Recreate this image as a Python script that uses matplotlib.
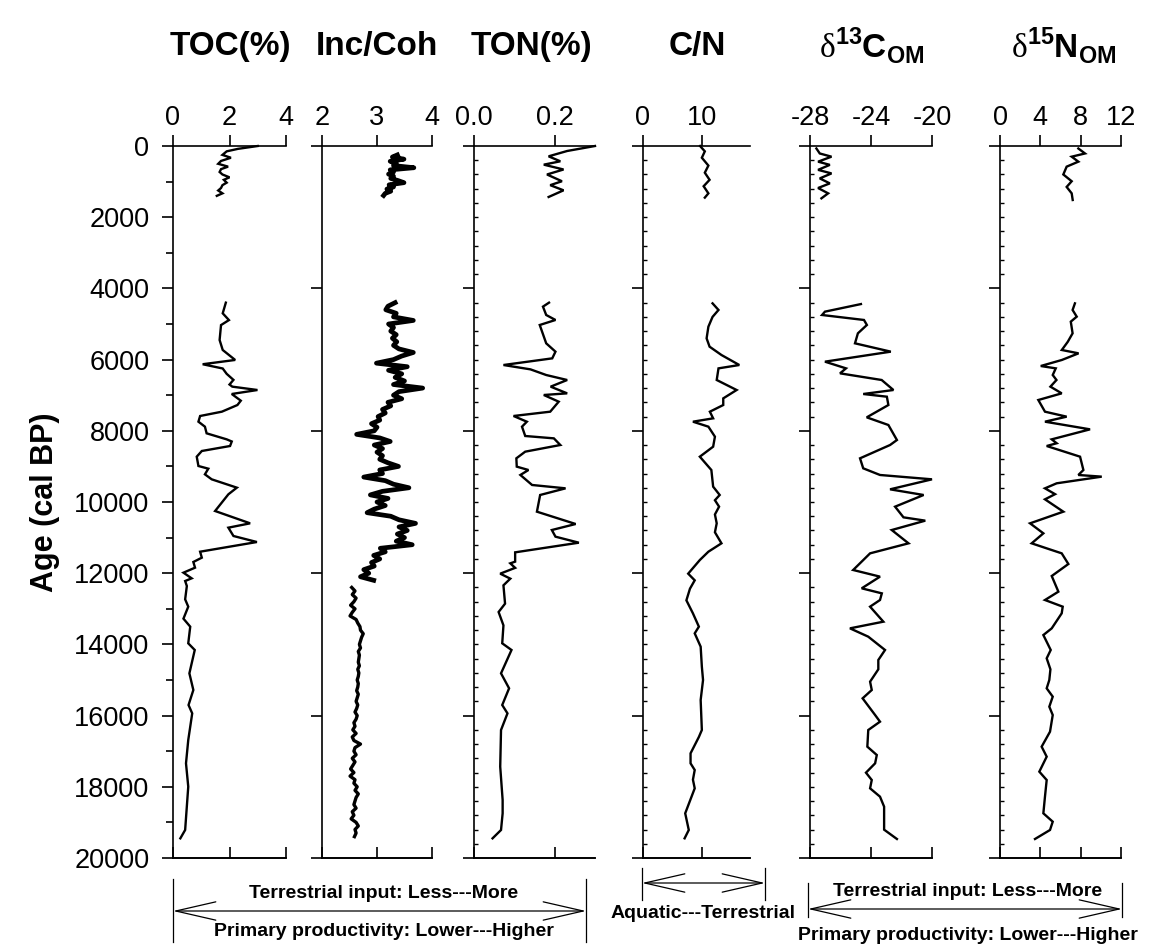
import numpy as np
import matplotlib
matplotlib.use("Agg")
import matplotlib.pyplot as plt
from matplotlib.lines import Line2D
from matplotlib.patches import FancyArrowPatch

plt.rcParams['font.family'] = ['Liberation Sans', 'DejaVu Sans']
plt.rcParams['mathtext.fontset'] = 'custom'
plt.rcParams['mathtext.rm'] = 'Liberation Serif'
plt.rcParams['mathtext.bf'] = 'Liberation Sans:bold'

# ---------------- data (age in cal BP) ----------------
# TOC (%)
toc_top_age = [0, 80, 150, 250, 330, 420, 500, 580, 650, 730, 800, 880, 950, 1030, 1100, 1180, 1250, 1330, 1400]
toc_top = [3.0, 2.3, 1.9, 1.75, 2.05, 1.7, 1.6, 1.95, 1.7, 1.65, 1.75, 2.0, 1.8, 1.9, 1.75, 1.7, 1.6, 1.75, 1.55]
toc_age = [4400, 4700, 4890, 5030, 5450, 5730, 6010, 6130, 6250, 6400, 6570, 6700, 6760, 6854, 6966,
           7154, 7276, 7463, 7584, 7744, 7884, 8071, 8240, 8300, 8427, 8567, 8727, 8989, 9064, 9223,
           9363, 9597, 9784, 10253, 10599, 10721, 10955, 11124, 11396, 11564, 11685, 11845, 11985,
           12144, 12219, 12360, 12734, 12940, 13277, 13502, 13970, 14157, 14813, 15281, 15703, 15937,
           16686, 17341, 17996, 19213, 19448]
toc = [1.87, 1.76, 1.98, 1.70, 1.65, 1.76, 2.2, 1.05, 1.76, 1.9, 2.14, 2.0, 2.1, 2.99, 2.08,
       2.40, 2.28, 1.73, 0.96, 0.90, 1.13, 1.19, 1.9, 2.08, 2.02, 1.02, 0.84, 0.90, 1.25, 1.13,
       1.37, 2.26, 1.96, 1.49, 2.73, 1.96, 2.14, 2.97, 0.96, 1.02, 0.72, 0.78, 0.37,
       0.66, 0.43, 0.49, 0.43, 0.54, 0.37, 0.61, 0.54, 0.77, 0.58, 0.72, 0.55, 0.68,
       0.54, 0.46, 0.54, 0.43, 0.26]

# Inc/Coh (regular XRF scan steps)
inc_top_age = np.arange(250, 1450, 60)
inc_top = [3.37, 3.28, 3.49, 3.24, 3.35, 3.30, 3.67, 3.24, 3.30, 3.21,
           3.30, 3.25, 3.38, 3.49, 3.22, 3.30, 3.18, 3.25, 3.15, 3.12]
inc_mid_age = np.arange(4400, 12300, 100)
inc_mid = [3.33, 3.20, 3.16, 3.35, 3.30, 3.66, 3.21, 3.30, 3.25, 3.35,
           3.28, 3.36, 3.30, 3.40, 3.66, 3.45, 3.30, 2.99, 3.55, 3.21,
           3.45, 3.33, 3.50, 3.30, 3.83, 3.40, 3.30, 3.45, 3.20, 3.25,
           3.10, 3.15, 3.02, 3.05, 2.90, 3.00, 2.95, 2.63, 3.05, 3.24,
           2.95, 3.10, 3.00, 3.10, 3.05, 3.20, 3.39, 3.05, 3.10, 2.76,
           3.15, 3.30, 3.58, 3.10, 2.88, 3.20, 3.00, 3.15, 2.95, 2.82,
           3.25, 3.40, 3.70, 3.40, 3.55, 3.37, 3.50, 3.35, 3.64, 3.06,
           3.15, 2.94, 3.05, 2.90, 2.95, 2.76, 2.85, 2.70, 2.94]
inc_low_age = np.arange(12400, 19500, 100)
inc_low = [2.54, 2.60, 2.55, 2.62, 2.58, 2.52, 2.60, 2.55, 2.51, 2.62,
           2.65, 2.69, 2.70, 2.75, 2.72, 2.70, 2.68, 2.70, 2.66, 2.68,
           2.67, 2.66, 2.68, 2.65, 2.67, 2.66, 2.64, 2.66, 2.65, 2.63,
           2.66, 2.64, 2.62, 2.65, 2.63, 2.60, 2.64, 2.62, 2.58, 2.60,
           2.56, 2.62, 2.55, 2.58, 2.70, 2.60, 2.58, 2.62, 2.55, 2.60,
           2.56, 2.52, 2.58, 2.51, 2.60, 2.58, 2.64, 2.60, 2.66, 2.62,
           2.60, 2.58, 2.62, 2.55, 2.58, 2.53, 2.62, 2.66, 2.60, 2.62, 2.59]

# TON (%)
ton_top_age = [0, 140, 290, 430, 524, 660, 800, 990, 1100, 1245, 1432]
ton_top = [0.30, 0.231, 0.185, 0.214, 0.173, 0.222, 0.181, 0.218, 0.189, 0.222, 0.185]
ton_age = [4400, 4512, 4747, 4887, 5028, 5543, 5777, 5965, 6152, 6274, 6433, 6573, 6760, 6948,
           6994, 7182, 7463, 7584, 7744, 7884, 8146, 8212, 8399, 8586, 8773, 9007, 9101, 9241,
           9522, 9616, 9803, 10272, 10618, 10787, 10974, 11143, 11414, 11676, 11723, 11850,
           12013, 12153, 12341, 12856, 13090, 13465, 13970, 14157, 14813, 15234, 15703, 15937,
           16405, 17435, 18371, 18745, 19213, 19448]
ton = [0.186, 0.171, 0.179, 0.202, 0.163, 0.179, 0.202, 0.194, 0.073, 0.14, 0.179, 0.231, 0.19, 0.231,
       0.173, 0.21, 0.189, 0.098, 0.131, 0.119, 0.127, 0.198, 0.214, 0.127, 0.105, 0.106, 0.135, 0.115,
       0.144, 0.227, 0.164, 0.156, 0.252, 0.193, 0.202, 0.26, 0.102, 0.102, 0.09, 0.102,
       0.065, 0.09, 0.073, 0.077, 0.061, 0.073, 0.07, 0.093, 0.067, 0.087, 0.07, 0.083,
       0.067, 0.065, 0.071, 0.071, 0.067, 0.046]

# C/N
cn_top_age = [0, 150, 330, 550, 750, 950, 1130, 1330, 1450]
cn_top = [9.6, 10.4, 9.9, 11.0, 10.4, 11.2, 10.2, 11.0, 10.4]
cn_age = [4420, 4606, 4800, 5075, 5403, 5637, 5871, 6152, 6246, 6573, 6854, 7089, 7276, 7463,
          7650, 7744, 7884, 8165, 8446, 8727, 9101, 9569, 9803, 9950, 10131, 10350, 10599, 10850,
          11161, 11396, 11630, 12013, 12200, 12435, 12762, 13128, 13502, 13690, 14064, 14626,
          15000, 15562, 16405, 16600, 17060, 17341, 17528, 17800, 18043, 18745, 19213, 19448]
cn = [11.7, 12.7, 11.7, 11.0, 10.7, 11.2, 13.2, 16.2, 12.7, 12.4, 15.75, 13.5, 13.5, 11.25,
      11.8, 8.4, 11.0, 12.1, 11.8, 9.56, 11.5, 11.8, 12.9, 12.1, 12.8, 12.1, 12.4, 12.1,
      13.2, 11.0, 9.56, 7.6, 8.7, 7.9, 7.3, 8.4, 9.4, 8.7, 9.7, 9.9,
      10.1, 9.7, 9.9, 9.4, 8.0, 8.0, 8.7, 8.4, 8.7, 7.1, 7.7, 7.0]

# d13C OM
c13_top_age = [70, 210, 300, 440, 530, 670, 770, 910, 1050, 1180, 1330, 1470]
c13_top = [-27.58, -27.36, -26.59, -27.47, -26.7, -27.47, -26.59, -27.36, -26.7, -27.47, -26.81, -27.25]
c13_age = [4440, 4653, 4747, 4887, 5028, 5262, 5543, 5777, 6058, 6246, 6386, 6573, 6854, 6966,
           7042, 7276, 7622, 7837, 8259, 8399, 8773, 9054, 9241, 9363, 9644, 9803, 10131, 10431,
           10524, 10787, 11161, 11442, 11910, 12097, 12425, 12566, 12753, 12940, 13362, 13549,
           13783, 14157, 14438, 14700, 15047, 15281, 15515, 15984, 16171, 16405, 16873, 17107,
           17341, 17603, 17809, 18043, 18277, 18558, 19204, 19466]
c13 = [-24.66, -27.02, -27.21, -24.46, -24.27, -24.86, -25.05, -22.70, -27.02, -25.64, -26.03, -23.3, -22.53, -24.51,
       -22.96, -22.86, -24.28, -22.86, -22.30, -22.75, -24.72, -24.51, -23.41, -20.0, -22.75, -20.55, -22.42, -21.87,
       -20.44, -22.64, -21.54, -24.06, -25.17, -23.41, -24.61, -23.29, -23.41, -24.06, -23.19, -25.38,
       -24.18, -23.08, -23.52, -23.52, -24.06, -23.95, -24.55, -23.73, -23.41, -24.18, -24.24, -23.62,
       -23.73, -24.33, -23.95, -24.06, -23.41, -23.14, -23.14, -22.30]

# d15N OM
n15_top_age = [70, 210, 300, 440, 580, 800, 990, 1150, 1330, 1517]
n15_top = [7.77, 8.43, 7.11, 7.77, 6.61, 6.28, 7.11, 6.61, 7.11, 7.21]
n15_age = [4420, 4606, 4794, 4934, 5262, 5500, 5730, 5824, 6011, 6180, 6246, 6433, 6573, 6760,
           6948, 7135, 7463, 7603, 7744, 7959, 8240, 8350, 8427, 8727, 9101, 9241, 9288, 9475,
           9616, 9780, 9925, 10272, 10599, 10880, 11161, 11302, 11442, 11742, 12079, 12519,
           12753, 12940, 13127, 13549, 13737, 14157, 14391, 14700, 15000, 15234, 15468, 15750,
           15984, 16452, 16873, 17154, 17575, 17809, 18277, 18745, 18980, 19213, 19466]
n15 = [7.43, 7.20, 7.61, 7.02, 7.20, 6.72, 6.13, 7.79, 6.13, 4.04, 5.53, 5.23, 5.6, 5.0,
       6.12, 3.80, 4.46, 6.61, 4.46, 8.93, 5.13, 5.62, 4.63, 7.94, 8.27, 7.77, 10.09, 5.62,
       4.46, 5.46, 4.46, 6.28, 2.98, 4.30, 3.14, 4.63, 6.12, 6.78, 5.13, 5.79,
       4.46, 6.22, 6.12, 5.13, 4.30, 5.03, 4.63, 5.0, 4.89, 4.63, 5.23, 4.89,
       5.23, 4.96, 4.13, 4.63, 3.90, 4.63, 4.46, 4.30, 5.23, 4.96, 3.47]

# ---------------- layout ----------------
W, H = 1151, 949
fig = plt.figure(figsize=(W / 100, H / 100), dpi=100)
TOP, BOT = 146, 858


def px(x, y):
    return x / W, 1 - y / H


def make_panel(x0, x1, xlim, xticks, xlabels, major=4000, minor=None, minor_in=True, ylabels=False):
    ax = fig.add_axes([x0 / W, 1 - BOT / H, (x1 - x0) / W, (BOT - TOP) / H])
    ax.set_xlim(*xlim)
    ax.set_ylim(20000, 0)
    ax.spines['right'].set_visible(False)
    for s in ['left', 'top', 'bottom']:
        ax.spines[s].set_linewidth(1.2)
    ax.xaxis.tick_top()
    ax.set_xticks(xticks)
    ax.set_xticklabels(xlabels)
    ax.tick_params(axis='x', direction='out', length=8, width=1.2, labelsize=19.5, pad=3)
    sec = ax.secondary_xaxis('bottom')
    sec.set_xticks(xticks)
    sec.tick_params(axis='x', direction='in', length=8, width=1.2, labelbottom=False)
    sec.spines['bottom'].set_linewidth(1.2)
    ax.set_yticks(np.arange(0, 20001, major))
    ax.tick_params(axis='y', which='major', direction='out', length=8, width=1.2, labelsize=19.5,
                   labelleft=ylabels, pad=9)
    if minor is not None:
        ax.set_yticks(np.arange(0, 20001, minor), minor=True)
        if minor_in:
            ax.tick_params(axis='y', which='minor', direction='in', length=3, width=1.0)
        else:
            ax.tick_params(axis='y', which='minor', direction='out', length=5, width=1.2)
    ax.patch.set_alpha(0)
    return ax


line_kw = dict(color='black', lw=1.7, clip_on=False, solid_joinstyle='miter')

ax1 = make_panel(173, 286, (0, 4), [0, 2, 4], ['0', '2', '4'], major=2000, minor=1000,
                 minor_in=False, ylabels=True)
ax1.plot(toc_top, toc_top_age, **line_kw)
ax1.plot(toc, toc_age, **line_kw)

ax2 = make_panel(322, 432, (2, 4), [2, 3, 4], ['2', '3', '4'])
ax2.plot(inc_top, inc_top_age, color='black', lw=3.4, clip_on=False)
ax2.plot(inc_mid, inc_mid_age, color='black', lw=3.4, clip_on=False)
ax2.plot(inc_low, inc_low_age, color='black', lw=2.4, clip_on=False)

ax3 = make_panel(474, 595, (0, 0.3), [0, 0.2], ['0.0', '0.2'], minor=400)
ax3.plot(ton_top, ton_top_age, **line_kw)
ax3.plot(ton, ton_age, **line_kw)

ax4 = make_panel(643, 750, (0, 18), [0, 10], ['0', '10'], minor=400)
ax4.plot(cn_top, cn_top_age, **line_kw)
ax4.plot(cn, cn_age, **line_kw)

ax5 = make_panel(810, 932, (-28, -20), [-28, -24, -20], ['-28', '-24', '-20'], minor=400)
ax5.plot(c13_top, c13_top_age, **line_kw)
ax5.plot(c13, c13_age, **line_kw)

ax6 = make_panel(1000, 1121, (0, 12), [0, 4, 8, 12], ['0', '4', '8', '12'], minor=400)
ax6.plot(n15_top, n15_top_age, **line_kw)
ax6.plot(n15, n15_age, **line_kw)

ax1.set_ylabel('Age (cal BP)', fontsize=22, fontweight='bold', labelpad=10)

# titles
titles = ['TOC(%)', 'Inc/Coh', 'TON(%)', 'C/N',
          r'$\mathrm{\delta}^{\mathbf{13}}\mathbf{C}_{\mathbf{OM}}$',
          r'$\mathrm{\delta}^{\mathbf{15}}\mathbf{N}_{\mathbf{OM}}$']
title_x = [230, 377, 531, 697, 872, 1064]
for t, x in zip(titles, title_x):
    fig.text(*px(x, 46), t, ha='center', va='center', fontsize=24, fontweight='bold')


# bottom annotations
def bracket(xa, xb, y_arrow, y0, y1):
    for xx in (xa, xb):
        fig.add_artist(Line2D([xx / W, xx / W], [1 - y0 / H, 1 - y1 / H], color='black', lw=0.9))
    arr = FancyArrowPatch(px(xa, y_arrow), px(xb, y_arrow), transform=fig.transFigure,
                          arrowstyle='<->,head_length=2.4,head_width=0.55', mutation_scale=12,
                          color='black', lw=0.9, shrinkA=0, shrinkB=0)
    fig.add_artist(arr)


bracket(173, 586, 911, 879, 942)
fig.text(*px(384, 893), 'Terrestrial input: Less---More', ha='center', va='center', fontsize=14, fontweight='bold')
fig.text(*px(384, 932), 'Primary productivity: Lower---Higher', ha='center', va='center', fontsize=14, fontweight='bold')

bracket(642, 765, 883, 868, 900)
fig.text(*px(703, 913), 'Aquatic---Terrestrial', ha='center', va='center', fontsize=14, fontweight='bold')

bracket(808, 1122, 909, 883, 917)
fig.text(*px(968, 892), 'Terrestrial input: Less---More', ha='center', va='center', fontsize=14, fontweight='bold')
fig.text(*px(968, 936), 'Primary productivity: Lower---Higher', ha='center', va='center', fontsize=14, fontweight='bold')

fig.savefig('out.png', dpi=100)
